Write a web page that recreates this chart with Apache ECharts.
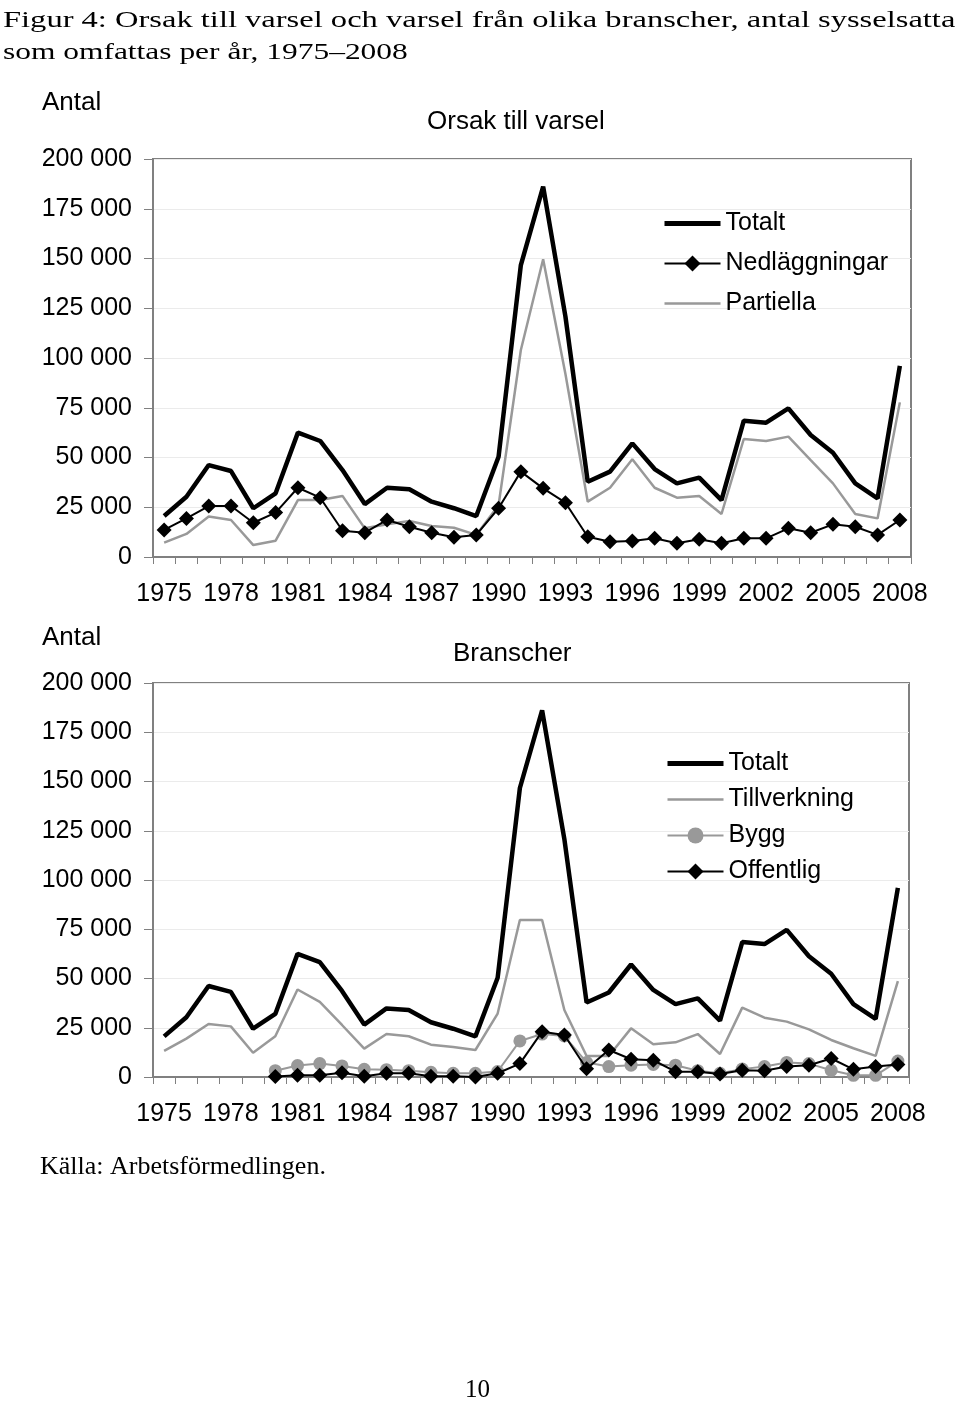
<!DOCTYPE html>
<html>
<head>
<meta charset="utf-8">
<script src="https://cdn.jsdelivr.net/npm/echarts@6/dist/echarts.min.js"></script>
<style>
html,body{margin:0;padding:0;background:#fff;}
#c{width:960px;height:1404px;}
</style>
</head>
<body>
<div id="c"></div>
<script>
const years = ['1975','1976','1977','1978','1979','1980','1981','1982','1983','1984','1985','1986','1987','1988','1989','1990','1991','1992','1993','1994','1995','1996','1997','1998','1999','2000','2001','2002','2003','2004','2005','2006','2007','2008'];
const yTicks = [0, 25000, 50000, 75000, 100000, 125000, 150000, 175000, 200000];

const totalt = [20600,30300,46200,43200,24500,32000,62500,58300,43700,26600,34800,34000,27800,24500,20600,50400,146700,186100,120800,37800,42900,57100,44200,37000,39900,28600,68500,67500,74700,61300,52400,37000,29500,96000];
const nedlaggningar = [13600,19400,25600,25600,17200,22300,34800,29800,13200,12200,18600,15200,12200,9900,11100,24500,42900,34500,27300,10200,7700,8000,9400,6900,8900,6900,9400,9400,14400,12200,16400,15200,11100,18600];
const partiella = [7200,11600,20300,18600,6000,8200,28600,28600,30700,14400,16500,18100,15600,14700,11100,26000,104000,149600,92000,27800,34800,49100,34800,29800,30700,21600,59300,58300,60500,48700,37000,21600,19400,77700];

const tillverkning = [13300,19500,26900,25700,12300,20700,44400,38100,26400,14400,21800,20700,16400,15200,13700,32200,79700,79700,34000,10700,10700,24700,16600,17600,21800,11700,35200,30100,28100,24200,18800,14600,10700,48700];
const bygg = [null,null,null,null,null,3200,5800,6800,5600,3900,3700,3200,2400,1900,1900,2800,18300,21800,20800,7400,5300,6000,6400,6000,3200,1900,4000,5300,7400,6800,3400,850,850,8100];
const offentlig = [null,null,null,null,null,300,850,850,2200,350,1900,1900,350,350,0,1900,6800,23000,21300,4200,13700,9000,8500,2700,2700,1500,3400,3200,5300,6000,9400,3900,5300,6400];

const SANS = '"Liberation Sans", Arial, sans-serif';
const SERIF = '"Liberation Serif", "Times New Roman", serif';
const GREY = '#808080';

function fmt(v){ return v === 0 ? '0' : String(v).replace(/\B(?=(\d{3})+(?!\d))/g, ' '); }

function xAxis(gi){
  return {
    type:'category', gridIndex:gi, data:years, boundaryGap:true,
    axisLine:{show:true, lineStyle:{color:GREY, width:2}},
    axisTick:{show:true, interval:0, length:7, lineStyle:{color:GREY, width:1}},
    axisLabel:{interval:2, margin:25, color:'#000', fontSize:25, fontFamily:SANS},
    splitLine:{show:false}
  };
}
function yAxis(gi){
  return {
    type:'value', gridIndex:gi, min:0, max:200000, interval:25000,
    axisLine:{show:true, lineStyle:{color:GREY, width:2}},
    axisTick:{show:true, length:9, lineStyle:{color:GREY, width:1}},
    axisLabel:{margin:21, color:'#000', fontSize:25, fontFamily:SANS, formatter:fmt},
    splitLine:{show:true, lineStyle:{color:'#ebebeb', width:1}}
  };
}

const plainLine = (name, w, c) => ({name:name, itemStyle:{opacity:0}, lineStyle:{width:w, color:c}});
const legendText = {fontSize:25, fontFamily:SANS, color:'#000', lineHeight:25};

function txt(text, x, y, font, opts){
  return Object.assign({type:'text', x:x, y:y, style:{text:text, font:font, fill:'#000', textVerticalAlign:'middle', verticalAlign:'middle', textAlign:'left', align:'left'}}, opts||{});
}

const chart = echarts.init(document.getElementById('c'), null, {renderer:'canvas'});
chart.setOption({
  animation:false,
  backgroundColor:'#fff',
  grid:[
    {left:153, top:159, width:758, height:398, show:true, borderColor:GREY, borderWidth:2, backgroundColor:'transparent'},
    {left:153, top:683, width:756, height:394, show:true, borderColor:GREY, borderWidth:2, backgroundColor:'transparent'}
  ],
  xAxis:[xAxis(0), xAxis(1)],
  yAxis:[yAxis(0), yAxis(1)],
  legend:[
    {orient:'vertical', left:657, top:206, itemWidth:56, itemHeight:20, itemGap:15, textStyle:legendText,
     data:[plainLine('Totalt',5,'#000'), {name:'Nedläggningar', lineStyle:{width:2}}, plainLine('Partiella',2.5,'#999')]},
    {orient:'vertical', left:660, top:746, itemWidth:56, itemHeight:20, itemGap:11, textStyle:legendText,
     data:[plainLine('Totalt',5,'#000'), plainLine('Tillverkning',2.5,'#999'), {name:'Bygg', lineStyle:{width:2}}, {name:'Offentlig', lineStyle:{width:2}}]}
  ],
  series:[
    {name:'Totalt', type:'line', xAxisIndex:0, yAxisIndex:0, data:totalt, symbol:'none', z:3,
     lineStyle:{color:'#000', width:4.5}, itemStyle:{color:'#000'}},
    {name:'Partiella', type:'line', xAxisIndex:0, yAxisIndex:0, data:partiella, symbol:'none', z:2,
     lineStyle:{color:'#999', width:2.5}, itemStyle:{color:'#999'}},
    {name:'Nedläggningar', type:'line', xAxisIndex:0, yAxisIndex:0, data:nedlaggningar, symbol:'diamond', symbolSize:15, showAllSymbol:true, z:4,
     lineStyle:{color:'#000', width:2}, itemStyle:{color:'#000'}},
    {name:'Totalt', type:'line', xAxisIndex:1, yAxisIndex:1, data:totalt, symbol:'none', z:3,
     lineStyle:{color:'#000', width:4.5}, itemStyle:{color:'#000'}},
    {name:'Tillverkning', type:'line', xAxisIndex:1, yAxisIndex:1, data:tillverkning, symbol:'none', z:2,
     lineStyle:{color:'#999', width:2.5}, itemStyle:{color:'#999'}},
    {name:'Bygg', type:'line', xAxisIndex:1, yAxisIndex:1, data:bygg, symbol:'circle', symbolSize:13, showAllSymbol:true, z:4,
     lineStyle:{color:'#999', width:2}, itemStyle:{color:'#999'}},
    {name:'Offentlig', type:'line', xAxisIndex:1, yAxisIndex:1, data:offentlig, symbol:'diamond', symbolSize:15, showAllSymbol:true, z:5,
     lineStyle:{color:'#000', width:2}, itemStyle:{color:'#000'}}
  ],
  graphic:[
    txt('Figur 4: Orsak till varsel och varsel från olika branscher, antal sysselsatta', 3, 21, '24px '+SERIF, {scaleX:1.355}),
    txt('som omfattas per år, 1975–2008', 3, 53, '24px '+SERIF, {scaleX:1.31}),
    txt('Antal', 42, 103, '26px '+SANS),
    txt('Orsak till varsel', 427, 122, '26px '+SANS),
    txt('Antal', 42, 638, '26px '+SANS),
    txt('Branscher', 453, 654, '26px '+SANS),
    txt('Källa: Arbetsförmedlingen.', 40, 1167, '26px '+SERIF),
    txt('10', 465, 1390, '25px '+SERIF)
  ]
});
</script>
</body>
</html>
